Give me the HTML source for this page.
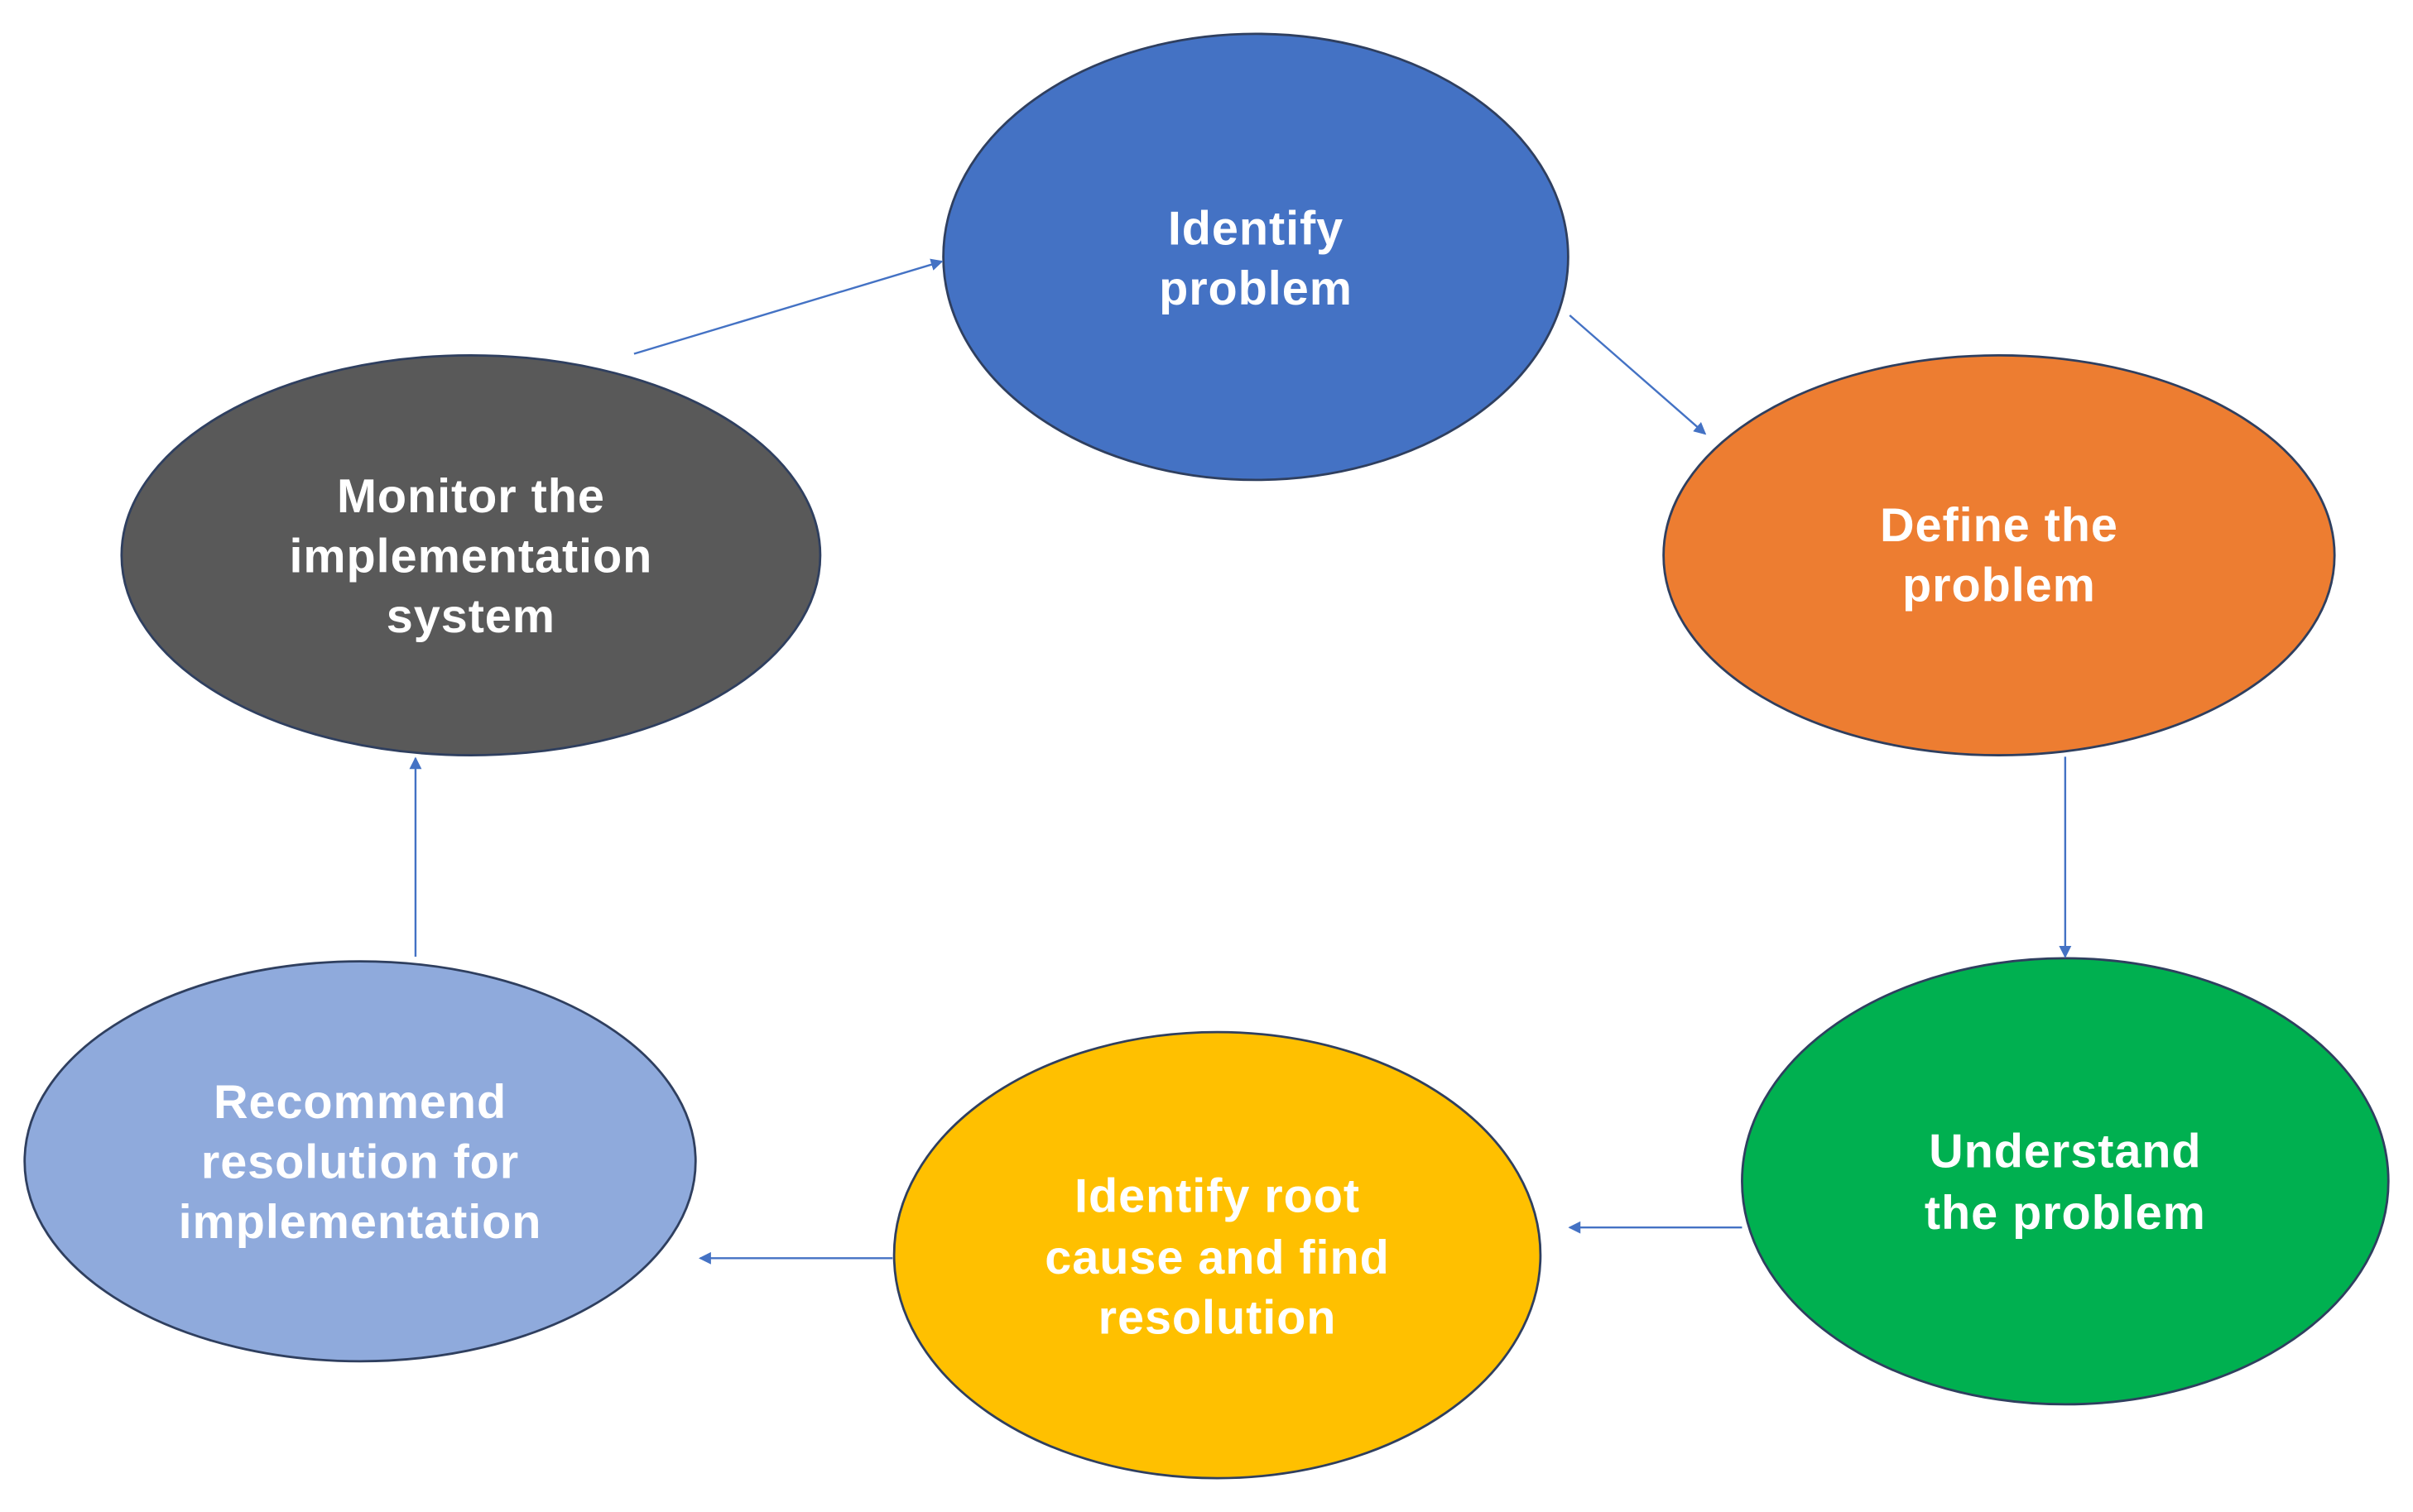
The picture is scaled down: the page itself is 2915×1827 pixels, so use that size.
<!DOCTYPE html>
<html><head><meta charset="utf-8"><style>
html,body{margin:0;padding:0;background:#fff;}
svg{display:block;}
text{font-family:"Liberation Sans",Arial,sans-serif;font-weight:bold;fill:#fff;font-size:31px;text-anchor:middle;letter-spacing:0.5px;}
</style></head><body>
<svg width="2915" height="1827" viewBox="0 0 1568 983" preserveAspectRatio="none" xmlns="http://www.w3.org/2000/svg">
<defs><marker id="a" markerWidth="8" markerHeight="8" refX="7" refY="4" orient="auto" markerUnits="userSpaceOnUse"><path d="M0,0 L8,4 L0,8 z" fill="#4472C4"/></marker></defs>
<g stroke="#2F3F5F" stroke-width="1.5">
<ellipse cx="816" cy="167" rx="203" ry="145" fill="#4472C4"/>
<ellipse cx="1299" cy="361" rx="218" ry="130" fill="#ED7D31"/>
<ellipse cx="1342" cy="768" rx="210" ry="145" fill="#00B050"/>
<ellipse cx="791" cy="816" rx="210" ry="145" fill="#FFC000"/>
<ellipse cx="234" cy="755" rx="218" ry="130" fill="#8FAADC"/>
<ellipse cx="306" cy="361" rx="227" ry="130" fill="#595959"/>
</g>
<g stroke="#4472C4" stroke-width="1.3" marker-end="url(#a)">
<line x1="412" y1="230" x2="612" y2="170"/>
<line x1="1020" y1="205" x2="1108" y2="282"/>
<line x1="1342" y1="492" x2="1342" y2="622"/>
<line x1="1132" y1="798" x2="1020" y2="798"/>
<line x1="580" y1="818" x2="455" y2="818"/>
<line x1="270" y1="622" x2="270" y2="493"/>
</g>
<text x="816" y="159">Identify</text><text x="816" y="198">problem</text>
<text x="1299" y="352">Define the</text><text x="1299" y="391">problem</text>
<text x="1342" y="759">Understand</text><text x="1342" y="799">the problem</text>
<text x="791" y="788">Identify root</text><text x="791" y="828">cause and find</text><text x="791" y="867">resolution</text>
<text x="234" y="727">Recommend</text><text x="234" y="766">resolution for</text><text x="234" y="805">implementation</text>
<text x="306" y="333">Monitor the</text><text x="306" y="372">implementation</text><text x="306" y="411">system</text>
</svg>
</body></html>
